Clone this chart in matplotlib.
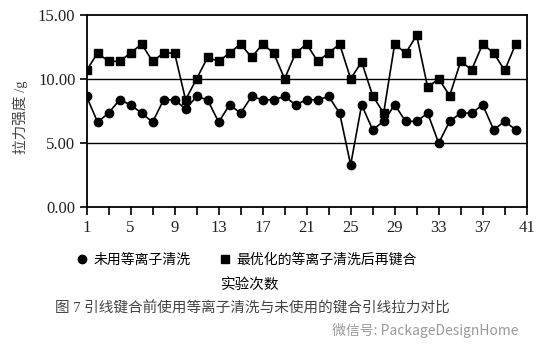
import numpy as np
import matplotlib.pyplot as plt

plt.rcParams['font.family'] = ['Liberation Serif', 'Noto Sans CJK SC', 'DejaVu Sans']

runs = np.arange(1, 41)
# 未用等离子清洗
untreated = [8.64, 6.64, 7.34, 8.38, 7.99, 7.34, 6.64, 8.38, 8.38, 7.66,
             8.64, 8.38, 6.64, 7.99, 7.34, 8.64, 8.38, 8.38, 8.64, 7.99,
             8.38, 8.38, 8.64, 7.34, 3.30, 7.99, 6.04, 6.70, 7.99, 6.70,
             6.70, 7.34, 5.00, 6.70, 7.34, 7.34, 7.99, 6.04, 6.70, 6.04]
# 最优化的等离子清洗后再键合
cleaned = [10.67, 12.03, 11.38, 11.38, 12.03, 12.73, 11.38, 12.03, 12.03, 8.38,
           10.02, 11.69, 11.38, 12.03, 12.73, 11.69, 12.73, 12.03, 10.02, 12.03,
           12.73, 11.38, 12.03, 12.73, 10.02, 11.33, 8.70, 7.34, 12.73, 12.03,
           13.41, 9.35, 10.02, 8.70, 11.38, 10.73, 12.73, 12.03, 10.67, 12.73]

xticks = np.arange(1, 42, 4)
yticks = [0, 5, 10, 15]
ytick_labels = ['0.00', '5.00', '10.00', '15.00']

fig = plt.figure(figsize=(5.55, 3.56), dpi=100)
ax = fig.add_axes([0.156, 0.418, 0.793, 0.540])

for y in [5, 10]:
    ax.axhline(y, color='black', lw=1.0, zorder=1)

ax.plot(runs, untreated, color='black', lw=1.2, marker='o', ms=6, zorder=3)
ax.plot(runs, cleaned, color='black', lw=1.2, marker='s', ms=5.5, zorder=3)

ax.set_xlim(1, 41)
ax.set_ylim(0, 15)
ax.set_xticks(xticks)
ax.set_xticks(np.arange(1, 42, 2), minor=True)
ax.set_yticks(yticks)
ax.set_yticklabels(ytick_labels)
ax.tick_params(axis='x', which='both', direction='out', length=6, width=1.2,
               labelsize=12, pad=3, labelcolor='#222222')
ax.tick_params(axis='y', direction='out', length=5, width=1.2, labelsize=12,
               pad=3, labelcolor='#222222')
for s in ax.spines.values():
    s.set_linewidth(1.3)

fig.text(20 / 555, 1 - 117 / 356, '拉力强度 /g', rotation=90, ha='center', va='center',
         fontsize=10.5, color='#444444')

h1 = plt.Line2D([], [], color='black', marker='o', ls='none', ms=6)
h2 = plt.Line2D([], [], color='black', marker='s', ls='none', ms=5.5)
fig.legend([h1, h2], ['未用等离子清洗', '最优化的等离子清洗后再键合'],
           loc='center', bbox_to_anchor=(246 / 555, 1 - 260 / 356), ncol=2,
           frameon=False, fontsize=10, handletextpad=0.3, columnspacing=2.0,
           handlelength=1.0)

fig.text(250 / 555, 1 - 285 / 356, '实验次数', ha='center', va='center', fontsize=10.5)
fig.text(252 / 555, 1 - 309 / 356, '图 7 引线键合前使用等离子清洗与未使用的键合引线拉力对比',
         ha='center', va='center', fontsize=10.5, color='#444444')
fig.text(425 / 555, 1 - 330 / 356, '微信号: PackageDesignHome', ha='center', va='center',
         fontsize=10, color='#9a9a9a', family=['Noto Sans CJK SC', 'DejaVu Sans'])

fig.savefig('out.png', dpi=100, facecolor='white')
